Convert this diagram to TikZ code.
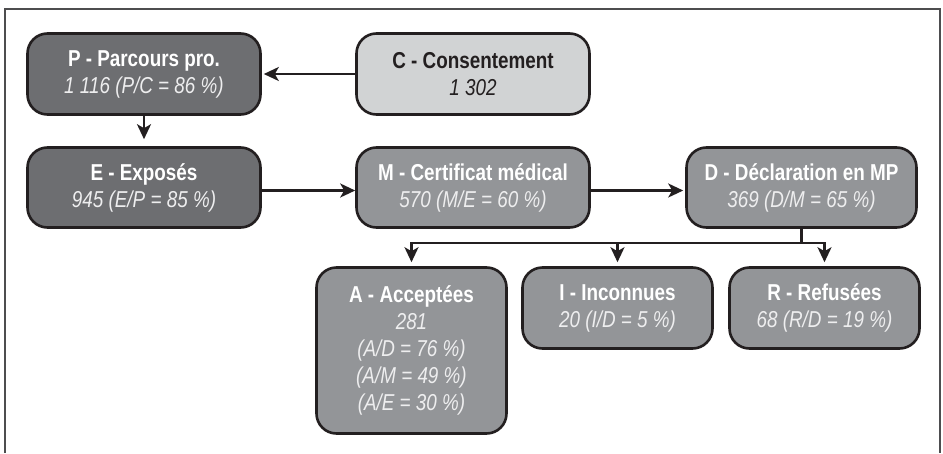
\documentclass[tikz,border=0pt]{standalone}
\usepackage{fontspec}
\setmainfont{Liberation Sans}[FakeStretch=0.82]
\usetikzlibrary{arrows.meta}

\definecolor{darkfill}{HTML}{6D6E71}
\definecolor{midfill}{HTML}{939598}
\definecolor{lightfill}{HTML}{D1D3D4}
\definecolor{ink}{HTML}{231F20}
\definecolor{paletext}{HTML}{EEEEEF}
\definecolor{framegray}{HTML}{4D4D4F}

\newcommand{\boxtitle}[1]{{\bfseries #1}}
\newcommand{\boxfig}[1]{{\itshape #1}}

\begin{document}
\begin{tikzpicture}[x=1pt,y=-1pt,
  box/.style={draw=ink, line width=2.6pt, rounded corners=20pt, align=center,
    inner sep=0pt, font=\fontsize{23}{27}\selectfont},
  darkbox/.style={box, fill=darkfill, text=white},
  midbox/.style={box, fill=midfill, text=white},
  lightbox/.style={box, fill=lightfill, text=ink},
  link/.style={draw=ink, line width=2.3pt,
    -{Stealth[length=15pt,width=14pt,inset=4pt]}},
  trunk/.style={draw=ink, line width=2.3pt},
]
\useasboundingbox (0,0) rectangle (943,453);

% open frame (no bottom edge)
\draw[framegray, line width=1.4pt] (5,453) -- (5,9) -- (940,9) -- (940,453);

% first row
\node[darkbox, minimum width=233pt, minimum height=81pt] (P) at (144,74)
  {\boxtitle{P - Parcours pro.}\\ \boxfig{\color{paletext}1 116 (P/C = 86 \%)}};
\node[lightbox, minimum width=233pt, minimum height=81pt] (C) at (473,74)
  {\boxtitle{C - Consentement}\\ \boxfig{1 302}};

% second row
\node[darkbox, minimum width=233pt, minimum height=80pt] (E) at (144,187.5)
  {\boxtitle{E - Exposés}\\ \boxfig{\color{paletext}945 (E/P = 85 \%)}};
\node[midbox, minimum width=233pt, minimum height=80pt] (M) at (473,187.5)
  {\boxtitle{M - Certificat médical}\\ \boxfig{\color{paletext}570 (M/E = 60 \%)}};
\node[midbox, minimum width=230pt, minimum height=80pt] (D) at (801.5,187.5)
  {\boxtitle{D - Déclaration en MP}\\ \boxfig{\color{paletext}369 (D/M = 65 \%)}};

% outcomes
\node[midbox, minimum width=190pt, minimum height=166pt] (A) at (411.5,350.5)
  {\boxtitle{A - Acceptées}\\ \boxfig{\color{paletext}281}\\
   \boxfig{\color{paletext}(A/D = 76 \%)}\\ \boxfig{\color{paletext}(A/M = 49 \%)}\\
   \boxfig{\color{paletext}(A/E = 30 \%)}};
\node[midbox, minimum width=190pt, minimum height=81pt] (I) at (617.5,308)
  {\boxtitle{I - Inconnues}\\ \boxfig{\color{paletext}20 (I/D = 5 \%)}};
\node[midbox, minimum width=190pt, minimum height=81pt] (R) at (824.5,308)
  {\boxtitle{R - Refusées}\\ \boxfig{\color{paletext}68 (R/D = 19 \%)}};

% connectors
\draw[link, shorten >=2pt] (C) -- (P);
\draw[link, shorten >=7pt] (P) -- (E);
\draw[link] ([shift={(0,3)}]E.east) -- ([shift={(0,3)}]M.west);
\draw[link, shorten >=2pt] ([shift={(0,3)}]M.east) -- ([shift={(0,3)}]D.west);

\draw[trunk] (D.south) -- ++(0,14) coordinate (fork);
\draw[link, shorten >=4pt] (fork) -| (A.north);
\draw[link, shorten >=4pt] (fork) -| (I.north);
\draw[link, shorten >=4pt] (fork) -| (R.north);
\end{tikzpicture}
\end{document}
